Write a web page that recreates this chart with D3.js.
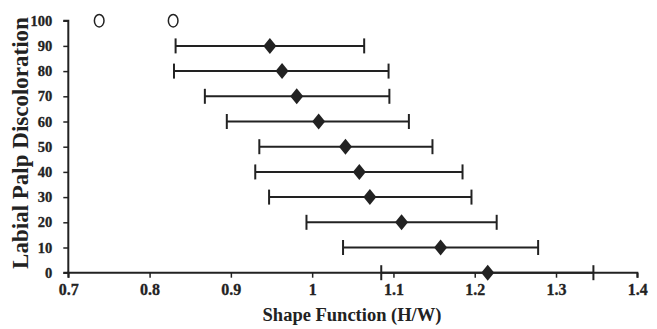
<!DOCTYPE html>
<html><head><meta charset="utf-8">
<script src="https://cdn.jsdelivr.net/npm/d3@7"></script>
<style>
body{margin:0;background:#fff;}
text{font-family:"Liberation Serif","Times New Roman",serif;font-weight:bold;fill:#222;}
</style></head>
<body><svg id="c" width="657" height="329"></svg>
<script>
const levels = [90, 80, 70, 60, 50, 40, 30, 20, 10, 0];
const means  = [0.948, 0.963, 0.981, 1.008, 1.041, 1.058, 1.071, 1.110, 1.158, 1.216];
const lows   = [0.832, 0.830, 0.868, 0.895, 0.935, 0.930, 0.947, 0.993, 1.038, 1.085];
const highs  = [1.064, 1.094, 1.095, 1.119, 1.148, 1.185, 1.196, 1.227, 1.278, 1.346];
const outlierLevel = [100, 100];
const outlierValues = [0.738, 0.829];
const xTicks = [0.7, 0.8, 0.9, 1.0, 1.1, 1.2, 1.3, 1.4];
const yTicks = [0, 10, 20, 30, 40, 50, 60, 70, 80, 90, 100];

const svg = d3.select("#c");
const x = d3.scaleLinear().domain([0.7, 1.4]).range([68.3, 637.3]);
const y = d3.scaleLinear().domain([0, 100]).range([272.7, 20.7]);
const ink = "#222";

const xAxis = svg.append("g").attr("transform","translate(0,272.7)")
  .call(d3.axisBottom(x).tickValues(xTicks).tickFormat(d=>d3.format("")(+d.toFixed(1))).tickSize(5).tickPadding(6));
const yAxis = svg.append("g").attr("transform","translate(68.3,0)")
  .call(d3.axisLeft(y).tickValues(yTicks).tickSize(5).tickPadding(11));
[xAxis,yAxis].forEach(a=>{
  a.selectAll("path").attr("stroke",ink).attr("stroke-width",2);
  a.selectAll("line").attr("stroke",ink).attr("stroke-width",1.5);
  a.selectAll("text").attr("fill",ink).attr("stroke",ink).attr("stroke-width",0.3);
});
xAxis.selectAll("text").style("font-size","16px");
yAxis.selectAll("text").style("font-size","14.5px");
xAxis.selectAll("path").attr("d", `M${x(0.7)},5V0H${x(1.4)}V5`);
yAxis.selectAll("path").attr("d", `M-5,${y(100)}H0V${y(0)}H-5`);

const data = levels.map((l,i)=>({l, m:means[i], lo:lows[i], hi:highs[i]}));
const g = svg.append("g");
g.selectAll(".bar").data(data).join("line")
  .attr("x1",d=>x(d.lo)).attr("x2",d=>x(d.hi)).attr("y1",d=>y(d.l)).attr("y2",d=>y(d.l))
  .attr("stroke",ink).attr("stroke-width",2);
["lo","hi"].forEach(k=>{
  g.selectAll(".cap"+k).data(data).join("line")
    .attr("x1",d=>x(d[k])).attr("x2",d=>x(d[k])).attr("y1",d=>y(d.l)-7.5).attr("y2",d=>y(d.l)+7.5)
    .attr("stroke",ink).attr("stroke-width",2);
});
g.selectAll(".dia").data(data).join("path")
  .attr("d",d=>{const cx=x(d.m), cy=y(d.l);return `M${cx},${cy-8}L${cx+6.5},${cy}L${cx},${cy+8}L${cx-6.5},${cy}Z`;})
  .attr("fill",ink);
g.selectAll(".out").data(outlierValues).join("ellipse")
  .attr("cx",d=>x(d)).attr("cy",(d,i)=>y(outlierLevel[i])).attr("rx",4.8).attr("ry",6.3)
  .attr("fill","#fff").attr("stroke",ink).attr("stroke-width",1.5);

svg.append("text").attr("x",352).attr("y",321).attr("text-anchor","middle")
  .style("font-size","18.5px").text("Shape Function (H/W)");
svg.append("text").attr("transform","translate(28,143) rotate(-90)").attr("text-anchor","middle")
  .style("font-size","23px").text("Labial Palp Discoloration");
</script></body></html>
